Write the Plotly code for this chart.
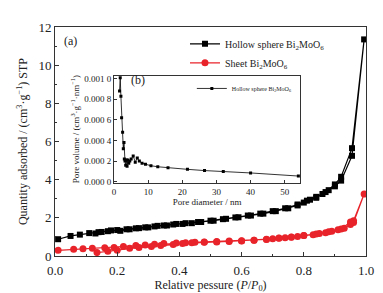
import plotly.graph_objects as go

# ---- main isotherm data (P/P0, quantity adsorbed) ----
hollow_ads_x = [0.01, 0.05, 0.08, 0.11, 0.14, 0.17, 0.20, 0.23, 0.26, 0.29, 0.32, 0.35, 0.38, 0.41, 0.44,
                0.47, 0.51, 0.55, 0.59, 0.63, 0.67, 0.71, 0.75, 0.78, 0.80, 0.82, 0.84, 0.86, 0.88, 0.90,
                0.92, 0.955, 0.994]
hollow_ads_y = [0.88, 1.05, 1.12, 1.20, 1.25, 1.30, 1.36, 1.40, 1.45, 1.50, 1.55, 1.60, 1.65, 1.68, 1.72,
                1.78, 1.85, 1.95, 2.03, 2.12, 2.22, 2.35, 2.50, 2.65, 2.80, 2.95, 3.05, 3.25, 3.45, 3.65,
                3.95, 5.25, 11.35]
hollow_des_x = [0.955, 0.92, 0.90, 0.87, 0.84, 0.81, 0.78, 0.74, 0.70, 0.66, 0.62, 0.58, 0.54, 0.50, 0.46,
                0.42, 0.39, 0.36, 0.33, 0.30, 0.27, 0.24, 0.21, 0.18, 0.15, 0.13]
hollow_des_y = [5.65, 4.15, 3.75, 3.35, 3.10, 2.90, 2.70, 2.50, 2.35, 2.22, 2.12, 2.02, 1.93, 1.85, 1.78,
                1.72, 1.68, 1.60, 1.58, 1.50, 1.46, 1.40, 1.32, 1.34, 1.26, 1.18]

sheet_ads_x = [0.01, 0.06, 0.09, 0.12, 0.16, 0.19, 0.22, 0.26, 0.29, 0.32, 0.35, 0.39, 0.42, 0.45, 0.48,
               0.52, 0.56, 0.60, 0.64, 0.68, 0.70, 0.72, 0.74, 0.76, 0.78, 0.80, 0.83, 0.85, 0.87, 0.89,
               0.91, 0.93, 0.95, 0.96, 0.994]
sheet_ads_y = [0.30, 0.35, 0.38, 0.40, 0.43, 0.45, 0.50, 0.55, 0.58, 0.62, 0.65, 0.68, 0.70, 0.72, 0.74,
               0.76, 0.78, 0.80, 0.83, 0.87, 0.90, 0.93, 0.95, 0.98, 1.02, 1.07, 1.12, 1.18, 1.22, 1.30,
               1.38, 1.45, 1.65, 1.75, 3.25]
sheet_des_x = [0.96, 0.95, 0.92, 0.88, 0.84, 0.80, 0.76, 0.72, 0.68, 0.64, 0.60, 0.56, 0.52, 0.48, 0.44,
               0.41, 0.38, 0.34, 0.31, 0.27, 0.24, 0.20, 0.17, 0.135]
sheet_des_y = [1.85, 1.78, 1.42, 1.27, 1.15, 1.08, 1.00, 0.94, 0.88, 0.83, 0.79, 0.76, 0.74, 0.72, 0.70,
               0.66, 0.60, 0.55, 0.50, 0.45, 0.40, 0.30, 0.25, 0.18]

# ---- inset: pore size distribution ----
pore_d = [1.6, 1.8, 2.0, 2.2, 2.5, 2.7, 2.9, 3.0, 3.2, 3.4, 3.6, 3.8, 4.0, 4.3, 4.6, 5.0, 5.6, 6.2, 6.8,
          7.4, 8.2, 9.2, 10.8, 12.8, 15.8, 21.5, 26.5, 32, 40, 54]
pore_v = [0.00088, 0.00101, 0.00083, 0.00062, 0.00048, 0.00032, 0.00038, 0.00022, 0.00020, 0.00016,
          0.00021, 0.00015, 0.00021, 0.00018, 0.00020, 0.00022, 0.00025, 0.00019, 0.00023, 0.00020,
          0.00018, 0.00017, 0.000155, 0.000145, 0.000135, 0.00012, 0.000108, 0.0001, 0.000085, 0.000055]

x_ticks = [0.0, 0.2, 0.4, 0.6, 0.8, 1.0]
y_ticks = [0, 2, 4, 6, 8, 10, 12]
inset_x_ticks = [0, 10, 20, 30, 40, 50]
inset_y_ticks = [0.0, 0.0002, 0.0004, 0.0006, 0.0008, 0.0010]
inset_y_labels = ["0.000 0", "0.000 2", "0.000 4", "0.000 6", "0.000 8", "0.001 0"]

BLACK = "#000000"
RED = "#e8232a"
AX = "#333333"
FONT = "Liberation Serif"

fig = go.Figure()
fig.add_trace(go.Scatter(
    x=hollow_ads_x + hollow_des_x, y=hollow_ads_y + hollow_des_y,
    mode="lines+markers", name="Hollow sphere Bi<sub>2</sub>MoO<sub>6</sub>",
    line=dict(color=BLACK, width=1.2), marker=dict(symbol="square", size=6, color=BLACK),
    legend="legend"))
fig.add_trace(go.Scatter(
    x=sheet_ads_x + sheet_des_x, y=sheet_ads_y + sheet_des_y,
    mode="lines+markers", name="Sheet Bi<sub>2</sub>MoO<sub>6</sub>",
    line=dict(color=RED, width=1.2), marker=dict(symbol="circle", size=7, color=RED),
    legend="legend"))
fig.add_trace(go.Scatter(
    x=pore_d, y=pore_v, xaxis="x2", yaxis="y2",
    mode="lines+markers", name="Hollow sphere Bi<sub>2</sub>MoO<sub>6</sub>",
    line=dict(color=BLACK, width=0.8), marker=dict(symbol="square", size=3, color=BLACK),
    legend="legend2"))

axis_common = dict(showline=True, linecolor=AX, linewidth=1, mirror=True, ticks="inside",
                   tickcolor=AX, showgrid=False, zeroline=False)

fig.update_layout(
    width=383, height=293,
    margin=dict(l=47, r=25, t=18, b=35),
    paper_bgcolor="white", plot_bgcolor="white",
    font=dict(family=FONT, color="#222222", size=12),
    xaxis=dict(range=[0, 1.0], domain=[0, 1], tickvals=x_ticks, tickformat=".1f", ticklen=4,
               minor=dict(dtick=0.1, ticks="inside", ticklen=2, tickcolor=AX),
               tickfont=dict(size=13, family=FONT), ticklabelstandoff=2,
               title=dict(text="Relative pessure (<i>P</i>/<i>P</i><sub>0</sub>)", font=dict(size=12), standoff=3),
               **axis_common),
    yaxis=dict(range=[0, 12], domain=[0, 1], tickvals=y_ticks, ticklen=4,
               minor=dict(dtick=1, ticks="inside", ticklen=2, tickcolor=AX),
               tickfont=dict(size=13, family=FONT),
               title=dict(text="Quantity adsorbed / (cm<sup>3</sup>·g<sup>−1</sup>) STP", font=dict(size=12), standoff=8),
               **axis_common),
    xaxis2=dict(range=[0, 54.5], domain=[0.19, 0.788], anchor="y2", tickvals=inset_x_ticks, ticklen=3,
                tickfont=dict(size=9, family=FONT),
                title=dict(text="Pore diameter / nm", font=dict(size=9), standoff=2),
                **axis_common),
    yaxis2=dict(range=[-0.00001, 0.00103], domain=[0.32, 0.7875], anchor="x2", tickvals=inset_y_ticks,
                ticktext=inset_y_labels, ticklen=3, tickfont=dict(size=9, family=FONT),
                title=dict(text="Pore volume / (cm<sup>3</sup>·g<sup>−1</sup>·nm<sup>−1</sup>)", font=dict(size=9), standoff=3),
                **axis_common),
    legend=dict(x=0.418, y=0.99, xanchor="left", yanchor="top", bgcolor="rgba(0,0,0,0)",
                font=dict(size=10, family=FONT), tracegroupgap=0, itemsizing="trace"),
    legend2=dict(x=0.44, y=0.795, xanchor="left", yanchor="top", bgcolor="rgba(0,0,0,0)",
                 font=dict(size=6, family=FONT), itemsizing="trace"),
    annotations=[
        dict(text="(a)", x=0.05, y=0.94, xref="paper", yref="paper", showarrow=False,
             font=dict(size=12, family=FONT), xanchor="center", yanchor="middle"),
        dict(text="(b)", x=0.267, y=0.77, xref="paper", yref="paper", showarrow=False,
             font=dict(size=12, family=FONT), xanchor="center", yanchor="middle"),
    ],
)

fig.write_html("out.html")
